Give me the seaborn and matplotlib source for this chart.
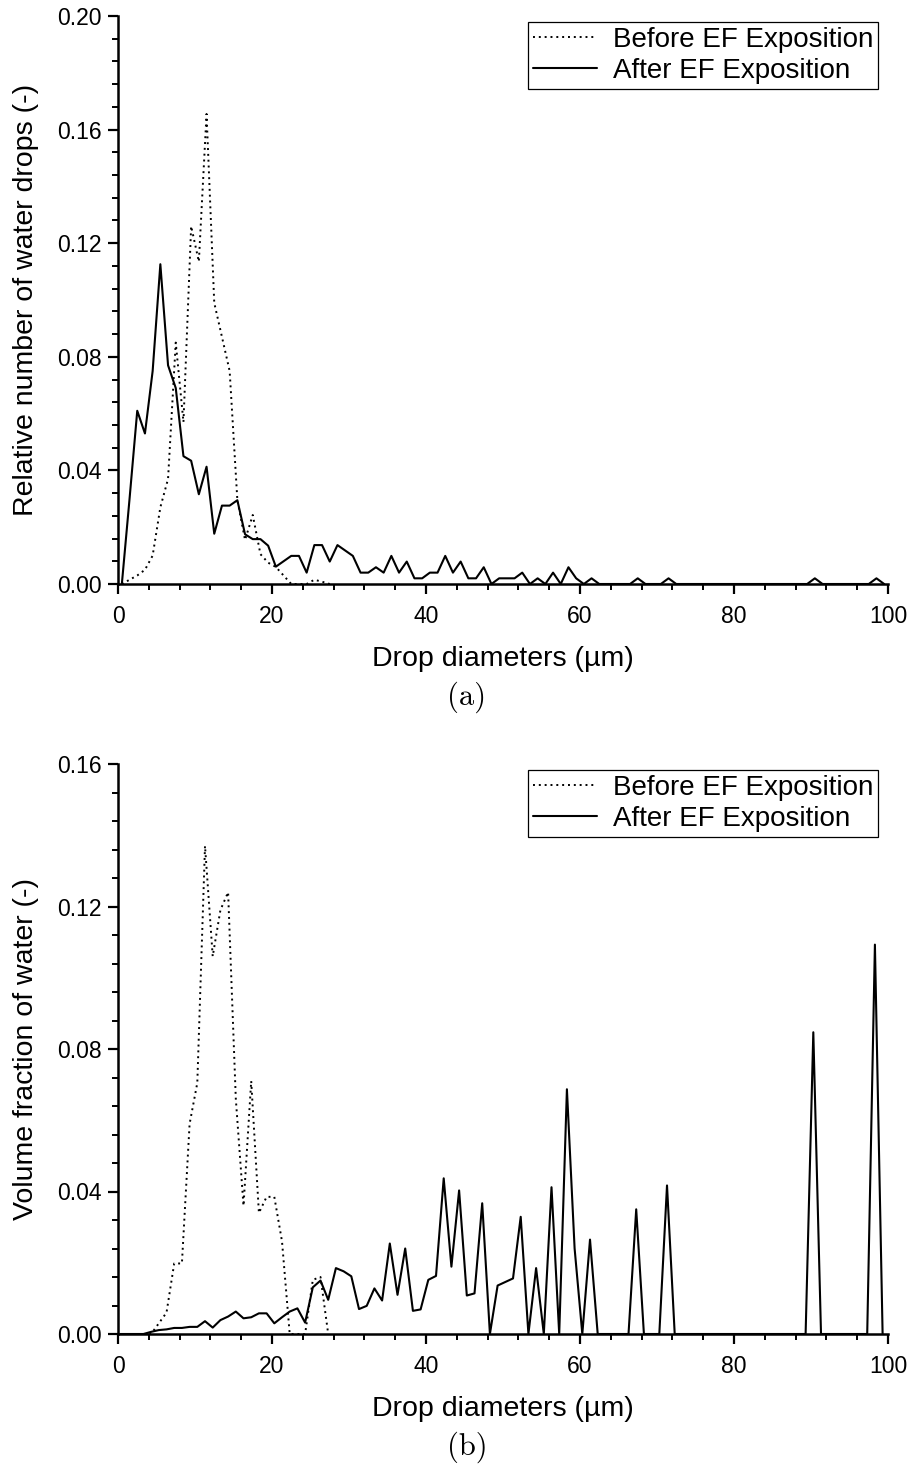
import numpy as np
import pandas as pd
import matplotlib
matplotlib.use("Agg")
import matplotlib.pyplot as plt
from matplotlib.ticker import MultipleLocator, FormatStrFormatter
import seaborn as sns

# ---------------- data ----------------
# (a) relative number of water drops
diam_a = np.arange(100) + 0.5
after_a = [0.0, 0.030, 0.061, 0.053, 0.075, 0.1126, 0.077, 0.069, 0.045, 0.0434,
           0.0316, 0.0413, 0.0177, 0.0276, 0.0276, 0.0295, 0.0175, 0.0158, 0.0158, 0.0135,
           0.0061, 0.0080, 0.0099, 0.0099, 0.0040, 0.0137, 0.0137, 0.0079, 0.0137, 0.0118,
           0.0099, 0.0040, 0.0040, 0.0059, 0.0040, 0.0099, 0.0040, 0.0079, 0.0020, 0.0020,
           0.0040, 0.0040, 0.0099, 0.0040, 0.0079, 0.0020, 0.0020, 0.0059, 0.0, 0.0020,
           0.0020, 0.0020, 0.0040, 0.0, 0.0020, 0.0, 0.0040, 0.0, 0.0059, 0.0020,
           0.0, 0.0020, 0.0, 0.0, 0.0, 0.0, 0.0, 0.0020, 0.0, 0.0,
           0.0, 0.0020, 0.0, 0.0, 0.0, 0.0, 0.0, 0.0, 0.0, 0.0,
           0.0, 0.0, 0.0, 0.0, 0.0, 0.0, 0.0, 0.0, 0.0, 0.0,
           0.0020, 0.0, 0.0, 0.0, 0.0, 0.0, 0.0, 0.0, 0.0020, 0.0]
before_a = [0.0, 0.0015, 0.003, 0.005, 0.010, 0.027, 0.037, 0.085, 0.057, 0.126,
            0.1135, 0.1655, 0.099, 0.087, 0.075, 0.0296, 0.0155, 0.0243, 0.0105, 0.0075,
            0.006, 0.003, 0.0, 0.0, 0.0, 0.0015, 0.0008, 0.0]

# (b) volume fraction of water
diam_b = np.arange(100) + 0.3
after_b = [0.0, 0.0, 0.0, 0.0, 0.0006, 0.0011, 0.0013, 0.0017, 0.0017, 0.0020,
           0.0020, 0.0036, 0.0018, 0.0039, 0.0049, 0.0063, 0.0044, 0.0047, 0.0058, 0.0058,
           0.0030, 0.0047, 0.0063, 0.0072, 0.0032, 0.0131, 0.0150, 0.0096, 0.0185, 0.0176,
           0.0162, 0.0070, 0.0079, 0.0128, 0.0094, 0.0254, 0.0110, 0.0240, 0.0065, 0.0069,
           0.0152, 0.0163, 0.0437, 0.0189, 0.0403, 0.0108, 0.0114, 0.0367, 0.0, 0.0136,
           0.0146, 0.0156, 0.0329, 0.0, 0.0185, 0.0, 0.0412, 0.0, 0.0687, 0.0240,
           0.0, 0.0265, 0.0, 0.0, 0.0, 0.0, 0.0, 0.0350, 0.0, 0.0,
           0.0, 0.0417, 0.0, 0.0, 0.0, 0.0, 0.0, 0.0, 0.0, 0.0,
           0.0, 0.0, 0.0, 0.0, 0.0, 0.0, 0.0, 0.0, 0.0, 0.0,
           0.0847, 0.0, 0.0, 0.0, 0.0, 0.0, 0.0, 0.0, 0.1093, 0.0]
before_b = [0.0, 0.0, 0.0, 0.0, 0.0, 0.003, 0.006, 0.0198, 0.0198, 0.059,
            0.0705, 0.137, 0.106, 0.119, 0.124, 0.066, 0.036, 0.071, 0.034, 0.0385,
            0.0385, 0.026, 0.0, 0.0, 0.0, 0.0152, 0.016, 0.0]

series_labels = ["Before EF Exposition", "After EF Exposition"]
ylabels = ["Relative number of water drops (-)", "Volume fraction of water (-)"]
xlabel = "Drop diameters (\u00b5m)"
captions = ["(a)", "(b)"]
ylims = [0.20, 0.16]

# ---------------- style ----------------
sns.set_style("ticks", {"text.color": "black", "axes.labelcolor": "black",
                        "xtick.color": "black", "ytick.color": "black",
                        "axes.edgecolor": "black"})
plt.rcParams["font.family"] = ["Liberation Sans", "DejaVu Sans"]

W, H = 910, 1465
fig = plt.figure(figsize=(W / 100, H / 100), dpi=100)

boxes = [(118, 16, 888, 584), (118, 764, 888, 1334)]
datasets = [(diam_a, before_a, after_a), (diam_b, before_b, after_b)]
cap_y = [697, 1447]

for i, (box, (d, bef, aft)) in enumerate(zip(boxes, datasets)):
    l, t, r, b = box
    ax = fig.add_axes([l / W, 1 - b / H, (r - l) / W, (b - t) / H])
    df_b = pd.DataFrame({"d": d[:len(bef)], "v": bef})
    df_a = pd.DataFrame({"d": d, "v": aft})
    sns.lineplot(data=df_b, x="d", y="v", ax=ax, color="black", lw=1.4,
                 linestyle=(0, (1.0, 2.0)), label=series_labels[0], errorbar=None, sort=False)
    sns.lineplot(data=df_a, x="d", y="v", ax=ax, color="black", lw=1.5,
                 linestyle="-", label=series_labels[1], errorbar=None, sort=False)
    ax.set_xlim(0, 100)
    ax.set_ylim(0, ylims[i])
    sns.despine(ax=ax)
    for sp in ax.spines.values():
        sp.set_linewidth(1.8)
    ax.xaxis.set_major_locator(MultipleLocator(20))
    ax.xaxis.set_minor_locator(MultipleLocator(4))
    ax.yaxis.set_major_locator(MultipleLocator(0.04))
    ax.yaxis.set_minor_locator(MultipleLocator(0.008))
    ax.yaxis.set_major_formatter(FormatStrFormatter("%.2f"))
    ax.tick_params(which="major", direction="out", length=7, width=1.6, labelsize=16.5, pad=5, color="black")
    ax.tick_params(axis="x", which="major", pad=8)
    ax.tick_params(which="minor", direction="out", length=4.5, width=1.4, color="black")
    ax.set_xlabel(xlabel, fontsize=20.5, labelpad=13)
    ax.set_ylabel(ylabels[i], fontsize=20.5, labelpad=13)
    leg = ax.legend(loc="upper right", bbox_to_anchor=(0.987, 0.99), fontsize=20,
                    frameon=True, fancybox=False, framealpha=1, edgecolor="black",
                    handlelength=2.3, handletextpad=0.55, labelspacing=0.18,
                    borderpad=0.18, borderaxespad=0.0)
    leg.get_frame().set_linewidth(0.9)
    fig.text(467 / W, 1 - cap_y[i] / H, captions[i], ha="center", va="center",
             fontsize=22, family=["cmr10", "DejaVu Serif"])

fig.savefig("out.png", dpi=100)
